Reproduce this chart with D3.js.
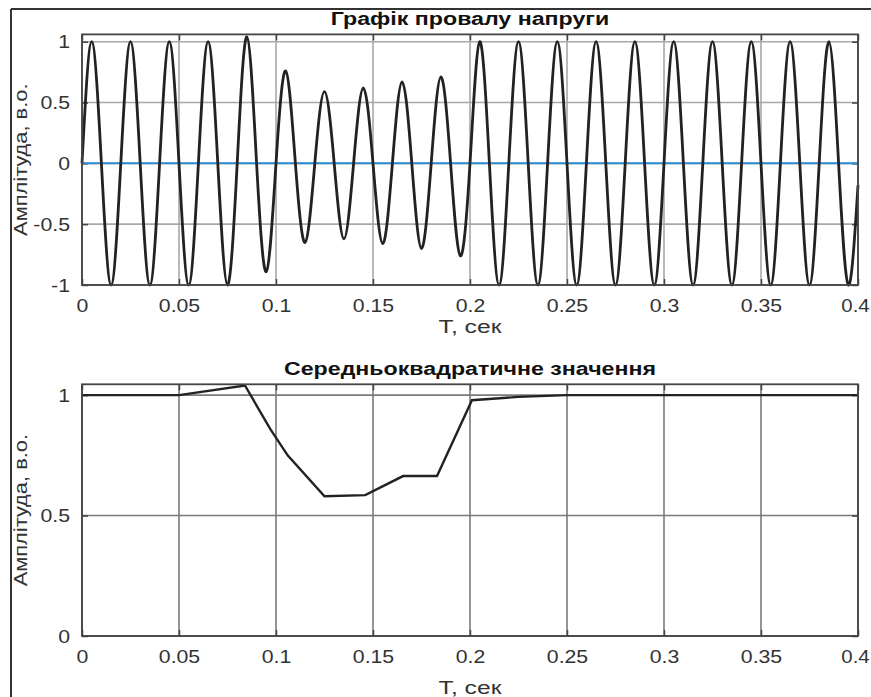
<!DOCTYPE html>
<html>
<head>
<meta charset="utf-8">
<script src="https://cdn.jsdelivr.net/npm/d3@7"></script>
<style>
  html, body { margin: 0; padding: 0; background: #fff; }
  svg { display: block; }
  text { font-family: "Liberation Sans", Arial, sans-serif; }
</style>
</head>
<body>
<svg id="chart" width="871" height="697"></svg>
<script>
// ---------------- data ----------------
const xTicks = [0, 0.05, 0.1, 0.15, 0.2, 0.25, 0.3, 0.35, 0.4];
const xTickLabels = ["0", "0.05", "0.1", "0.15", "0.2", "0.25", "0.3", "0.35", "0.4"];
const topYTicks = [-1, -0.5, 0, 0.5, 1];
const topYTickLabels = ["-1", "-0.5", "0", "0.5", "1"];
const bottomYTicks = [0, 0.5, 1];
const bottomYTickLabels = ["0", "0.5", "1"];

// voltage waveform: positive peaks (one per cycle, 50 Hz) and negative peaks
const peakTimes   = [0.005,0.025,0.045,0.065,0.085,0.105,0.125,0.145,0.165,0.185,0.205,0.225,0.245,0.265,0.285,0.305,0.325,0.345,0.365,0.385];
const peakValues  = [1.0, 1.0, 1.0, 1.0, 1.04, 0.76, 0.59, 0.62, 0.67, 0.71, 1.0, 1.0, 1.0, 1.0, 1.0, 1.0, 1.0, 1.0, 1.0, 1.0];
const troughTimes = [0.015,0.035,0.055,0.075,0.095,0.115,0.135,0.155,0.175,0.195,0.215,0.235,0.255,0.275,0.295,0.315,0.335,0.355,0.375,0.395];
const troughValues= [-1.0, -1.0, -1.0, -1.0, -0.89, -0.65, -0.62, -0.66, -0.70, -0.76, -1.0, -1.0, -1.0, -1.0, -1.0, -1.0, -1.0, -1.0, -1.0, -1.0];
const crossingTimes = [0,0.01,0.02,0.03,0.04,0.05,0.06,0.07,0.08,0.09,0.1,0.11,0.12,0.13,0.14,0.15,0.16,0.17,0.18,0.19,0.2,0.21,0.22,0.23,0.24,0.25,0.26,0.27,0.28,0.29,0.3,0.31,0.32,0.33,0.34,0.35,0.36,0.37,0.38,0.39,0.4];
const crossingValues = [0,0,0,0,0,0,0,0,0,0,0,0,0,0,0,0,0,0,0,0,0,0,0,0,0,0,0,0,0,0,0,0,0,0,0,0,0,0,0,0,-0.18];

// zero reference line
const refTimes = [0, 0.4];
const refValues = [0, 0];

// RMS value
const rmsTimes  = [0, 0.05, 0.084, 0.097, 0.106, 0.125, 0.146, 0.1655, 0.183, 0.201, 0.225, 0.25, 0.4];
const rmsValues = [1.0, 1.0, 1.04, 0.86, 0.75, 0.58, 0.585, 0.664, 0.664, 0.979, 0.993, 1.0, 1.0];

// ---------------- layout ----------------
const svg = d3.select("#chart");
const FONT = 19;
const SX = 1.12;       // horizontal stretch of the reference lettering
const axL = 82, axR = 858;

// outer frame
svg.append("line").attr("x1", 11).attr("x2", 871).attr("y1", 9).attr("y2", 9)
  .attr("stroke", "#333").attr("stroke-width", 2);
svg.append("line").attr("x1", 11).attr("x2", 11).attr("y1", 9).attr("y2", 697)
  .attr("stroke", "#333").attr("stroke-width", 2);

function stretchedText(x, y, txt, opts) {
  const t = svg.append("text")
    .attr("transform", `translate(${x},${y}) scale(${opts.sx},1)`)
    .attr("text-anchor", "middle").attr("font-size", opts.size)
    .attr("fill", opts.fill).text(txt);
  if (opts.bold) t.attr("font-weight", "bold");
  return t;
}

function drawAxes(cfg) {
  const x = d3.scaleLinear().domain([0, 0.4]).range([axL, axR]);
  const y = d3.scaleLinear().domain(cfg.yDomain).range([cfg.yBottom, cfg.yTop]);
  const g = svg.append("g");

  // grid
  g.append("g").selectAll("line").data(xTicks).join("line")
    .attr("x1", d => x(d)).attr("x2", d => x(d))
    .attr("y1", cfg.yTop).attr("y2", cfg.yBottom)
    .attr("stroke", cfg.gridColor).attr("stroke-width", 1.6);
  g.append("g").selectAll("line").data(cfg.yTicks).join("line")
    .attr("x1", axL).attr("x2", axR)
    .attr("y1", d => y(d)).attr("y2", d => y(d))
    .attr("stroke", cfg.gridColor).attr("stroke-width", 1.6);

  // axes via d3 axis (inward ticks, labels)
  const xAxis = d3.axisBottom(x).tickValues(xTicks)
    .tickFormat((d, i) => xTickLabels[i]).tickSizeInner(-6).tickSizeOuter(0).tickPadding(14);
  const gx = g.append("g").attr("transform", `translate(0,${cfg.yBottom})`).call(xAxis);
  const yAxis = d3.axisLeft(y).tickValues(cfg.yTicks)
    .tickFormat((d, i) => cfg.yTickLabels[i]).tickSizeInner(-6).tickSizeOuter(0).tickPadding(12);
  const gy = g.append("g").attr("transform", `translate(${axL},0)`).call(yAxis);
  const xTop = d3.axisTop(x).tickValues(xTicks).tickFormat("").tickSizeInner(-6).tickSizeOuter(0);
  g.append("g").attr("transform", `translate(0,${cfg.yTop})`).call(xTop);
  const yRight = d3.axisRight(y).tickValues(cfg.yTicks).tickFormat("").tickSizeInner(-6).tickSizeOuter(0);
  g.append("g").attr("transform", `translate(${axR},0)`).call(yRight);
  g.selectAll(".domain").remove();
  g.selectAll(".tick line").attr("stroke", "#444").attr("stroke-width", 1.5);
  const nX = xTicks.length;
  gx.selectAll("text").attr("transform", (d, i) =>
    i === nX - 1 ? `translate(-3,0) scale(${SX * 0.96},1)` : `scale(${SX},1)`);
  gy.selectAll("text").each(function () {
    const t = d3.select(this);
    const xx = +t.attr("x");
    t.attr("x", null).attr("transform", `translate(${xx},0) scale(${SX},1)`);
  });
  [gx, gy].forEach(a => a.selectAll("text")
    .attr("font-size", FONT).attr("fill", "#333")
    .attr("font-family", "'Liberation Sans', Arial, sans-serif"));

  // data
  cfg.draw(g, x, y);

  // box
  g.append("rect").attr("x", axL).attr("y", cfg.yTop)
    .attr("width", axR - axL).attr("height", cfg.yBottom - cfg.yTop)
    .attr("fill", "none").attr("stroke", "#444").attr("stroke-width", 1.8);

  // title
  stretchedText((axL + axR) / 2, cfg.yTop - 9, cfg.title, { sx: 1.22, size: 19, bold: true, fill: "#111" });
  // x label
  stretchedText((axL + axR) / 2, cfg.yBottom + cfg.xLabelOffset, "T, сек", { sx: 1.3, size: FONT, fill: "#333" });
  // y label (rotated; stretch along the text direction)
  const cy = (cfg.yTop + cfg.yBottom) / 2;
  svg.append("text").attr("transform", `translate(27,${cy}) rotate(-90) scale(1.15,1)`)
    .attr("text-anchor", "middle").attr("font-size", FONT).attr("fill", "#333")
    .text("Амплітуда, в.о.");
}

// top: voltage dip
drawAxes({
  yDomain: [-1, 1.06], yTop: 34.4, yBottom: 285, xLabelOffset: 48,
  yTicks: topYTicks, yTickLabels: topYTickLabels,
  gridColor: "#a8a8a8",
  title: "Графік провалу напруги",
  draw: (g, x, y) => {
    const pts = [];
    crossingTimes.forEach((t, i) => pts.push([t, crossingValues[i]]));
    peakTimes.forEach((t, i) => pts.push([t, peakValues[i]]));
    troughTimes.forEach((t, i) => pts.push([t, troughValues[i]]));
    pts.sort((a, b) => a[0] - b[0]);
    const ref = refTimes.map((t, i) => [t, refValues[i]]);
    g.append("path").datum(ref)
      .attr("d", d3.line().x(d => x(d[0])).y(d => y(d[1])))
      .attr("fill", "none").attr("stroke", "#2b8fd6").attr("stroke-width", 2);
    g.append("path").datum(pts)
      .attr("d", d3.line().x(d => x(d[0])).y(d => y(d[1])).curve(d3.curveNatural))
      .attr("fill", "none").attr("stroke", "#222").attr("stroke-width", 2.8);
  }
});

// bottom: RMS
drawAxes({
  yDomain: [0, 1.045], yTop: 384.3, yBottom: 636, xLabelOffset: 58,
  yTicks: bottomYTicks, yTickLabels: bottomYTickLabels,
  gridColor: "#7a7a7a",
  title: "Середньоквадратичне значення",
  draw: (g, x, y) => {
    const pts = rmsTimes.map((t, i) => [t, rmsValues[i]]);
    g.append("path").datum(pts)
      .attr("d", d3.line().x(d => x(d[0])).y(d => y(d[1])))
      .attr("fill", "none").attr("stroke", "#222").attr("stroke-width", 2.4);
  }
});
</script>
</body>
</html>
